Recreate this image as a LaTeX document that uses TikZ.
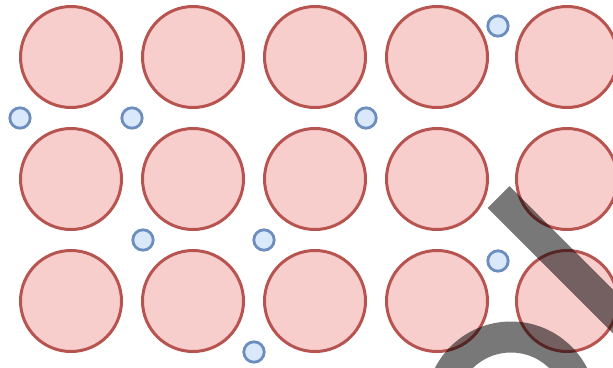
\documentclass[tikz,border=0pt]{standalone}
\begin{document}
\begin{tikzpicture}[x=1pt,y=-1pt,
  bigatom/.style={draw={rgb,255:red,184;green,84;blue,80},fill={rgb,255:red,248;green,206;blue,204},line width=3pt},
  smallatom/.style={draw={rgb,255:red,108;green,142;blue,191},fill={rgb,255:red,218;green,232;blue,252},line width=2.8pt},
  greymark/.style={draw=black,draw opacity=0.53,line width=31pt}]
\useasboundingbox (0,0) rectangle (613,367);
\clip (0,0) rectangle (613,367);
\foreach \y in {57,179,301}{
  \foreach \x in {71,193,315,437,567}{
    \draw[bigatom] (\x,\y) circle (50.5);
  }
}
\foreach \x/\y in {20/118,132/118,366/118,498/26,143/240,264/240,498/261,254/352}{
  \draw[smallatom] (\x,\y) circle (10.2);
}
\draw[greymark,line cap=butt] (498.5,197) -- (660,358.5);
\draw[greymark] (511,407) circle (70);
\end{tikzpicture}
\end{document}
